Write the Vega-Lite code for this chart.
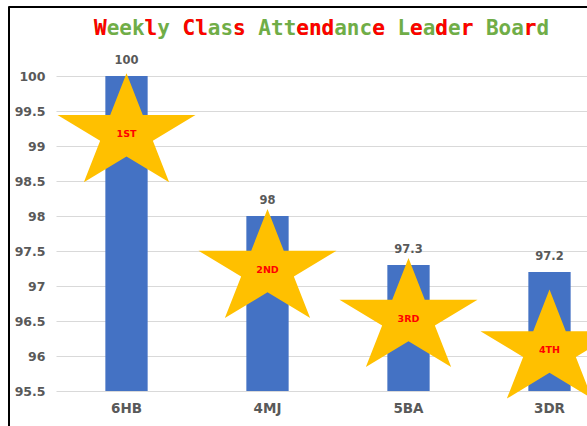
{
  "$schema": "https://vega.github.io/schema/vega-lite/v6.json",
  "width": 531,
  "height": 315,
  "autosize": {"type": "none"},
  "padding": {"left": 56, "top": 76, "right": 0, "bottom": 35},
  "background": "white",
  "title": {
    "text": "Weekly Class Attendance Leader Board",
    "subtitle": "W\u00a0\u00a0\u00a0l\u00a0\u00a0Cl\u00a0\u00a0s\u00a0\u00a0\u00a0\u00a0end\u00a0\u00a0\u00a0e\u00a0\u00a0e\u00a0d\u00a0r\u00a0\u00a0\u00a0\u00a0r",
    "anchor": "start",
    "align": "left",
    "frame": "group",
    "dx": 38,
    "font": "DejaVu Sans Mono",
    "fontWeight": "bold",
    "fontSize": 21,
    "color": "#70AD47",
    "subtitleFont": "DejaVu Sans Mono",
    "subtitleFontWeight": "bold",
    "subtitleFontSize": 21,
    "subtitleColor": "#FF0000",
    "subtitlePadding": -21,
    "offset": -36
  },
  "datasets": {
    "classes": [
      {"cls": "6HB", "pct": 100, "rank": "1ST", "star": 99.26},
      {"cls": "4MJ", "pct": 98, "rank": "2ND", "star": 97.32},
      {"cls": "5BA", "pct": 97.3, "rank": "3RD", "star": 96.62},
      {"cls": "3DR", "pct": 97.2, "rank": "4TH", "star": 96.17}
    ],
    "frame": [{"f": 0}, {"f": 1}]
  },
  "layer": [
    {
      "data": {"name": "frame"},
      "mark": {"type": "point", "opacity": 0},
      "encoding": {
        "x": {
          "field": "f", "type": "quantitative",
          "scale": {"domain": [0, 1], "range": [-48, 531], "nice": false, "zero": false},
          "axis": {"orient": "top", "offset": 69.5, "domain": true, "domainColor": "#000000", "domainWidth": 2, "ticks": false, "labels": false, "grid": false, "title": null}
        },
        "y": {
          "field": "f", "type": "quantitative",
          "scale": {"domain": [0, 1], "range": [350, -70], "nice": false, "zero": false},
          "axis": {"orient": "left", "offset": 47.5, "domain": true, "domainColor": "#000000", "domainWidth": 2, "ticks": false, "labels": false, "grid": false, "title": null}
        }
      }
    },
    {
      "data": {"name": "classes"},
      "encoding": {
        "x": {
          "field": "cls", "type": "nominal", "sort": null,
          "scale": {"range": [0, 564], "paddingInner": 0.7, "paddingOuter": 0.35},
          "axis": {"orient": "bottom", "title": null, "domain": false, "ticks": false, "grid": false, "labelAngle": 0, "labelFontSize": 13.5, "labelPadding": 10}
        },
        "y": {
          "field": "pct", "type": "quantitative",
          "scale": {"domain": [95.5, 100], "nice": false, "zero": false},
          "axis": {"orient": "left", "title": null, "domain": false, "ticks": false, "values": [95.5, 96, 96.5, 97, 97.5, 98, 98.5, 99, 99.5, 100], "format": ".1~f", "labelFontSize": 12.5, "labelPadding": 11, "labelFlush": false, "labelOverlap": false, "grid": true, "gridColor": "#D9D9D9", "gridWidth": 1}
        }
      },
      "layer": [
        {
          "mark": {"type": "bar", "color": "#4472C4"},
          "encoding": {"y2": {"datum": 95.5}}
        },
        {
          "mark": {"type": "text", "font": "DejaVu Sans", "fontWeight": "bold", "fontSize": 11.5, "color": "#595959", "baseline": "alphabetic", "dy": -12},
          "encoding": {"text": {"field": "pct", "type": "quantitative", "format": ".1~f"}}
        },
        {
          "mark": {"type": "point", "shape": "M0,-0.79L0.236,-0.1865L1,-0.1865L0.382,0.1865L0.618,0.79L0,0.417L-0.618,0.79L-0.382,0.1865L-1,-0.1865L-0.236,-0.1865Z", "size": 19044, "filled": true, "color": "#FFC000", "opacity": 1, "strokeWidth": 0},
          "encoding": {"y": {"field": "star", "type": "quantitative"}}
        },
        {
          "mark": {"type": "text", "font": "DejaVu Sans", "fontWeight": "bold", "fontSize": 9.5, "color": "#FF0000", "baseline": "middle", "dy": 6},
          "encoding": {"y": {"field": "star", "type": "quantitative"}, "text": {"field": "rank", "type": "nominal"}}
        }
      ]
    }
  ],
  "resolve": {"scale": {"x": "independent", "y": "independent"}},
  "config": {
    "view": {"stroke": null},
    "axis": {"labelFont": "DejaVu Sans", "labelFontWeight": "bold", "labelColor": "#595959"}
  }
}
